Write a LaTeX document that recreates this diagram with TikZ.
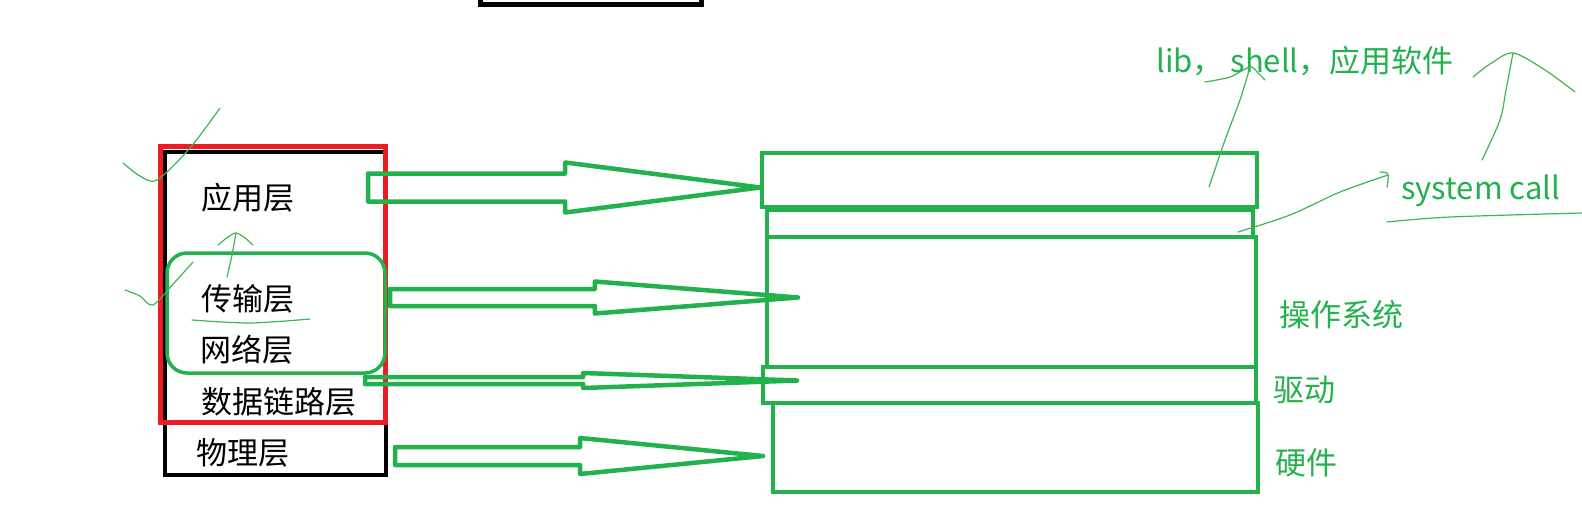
\documentclass[tikz,border=0pt]{standalone}
\usepackage{fontspec}
\setmainfont{Noto Sans CJK SC}
\usetikzlibrary{calc}
\usetikzlibrary{fit}
\definecolor{paintgreen}{HTML}{22B14C}
\definecolor{paintred}{HTML}{ED1C24}
\definecolor{pengreen}{HTML}{3DB554}
\tikzset{
  layerbox/.style={draw, inner sep=0pt},
  greenbox/.style={layerbox, paintgreen, line width=4.5pt},
  blockarrow/.style={paintgreen, line width=4.5pt, line join=round},
  pen/.style={pengreen, line width=1.2pt, line cap=round},
  layername/.style={font=\fontsize{31}{37}\selectfont, inner sep=0pt, anchor=west},
  osname/.style={layername, text=paintgreen},
}
\newcommand{\layerarrow}[5]{%
  \path ($(#1)!#3!(#2)$) coordinate (head);
  \draw[blockarrow] ($(#1)+(0,-#4)$) -- ($(head)+(0,-#4)$) -- ($(head)+(0,-#5)$) -- (#2)
    -- ($(head)+(0,#5)$) -- ($(head)+(0,#4)$) -- ($(#1)+(0,#4)$) -- cycle;}

\begin{document}
\begin{tikzpicture}[x=1pt, y=-1pt]
            \useasboundingbox (0,0) rectangle (1582,528);
            \node[layerbox, line width=5pt, fit={(480,-30) (701,4)}] (topbox) {};
            \node[layerbox, line width=4.5pt, fit={(165,152) (386,475)}] (stack) {};
            \node[layerbox, paintred, line width=5pt, fit={(160,146) (385,422)}] (software) {};
            \node[layerbox, paintgreen, line width=3.5pt, rounded corners=20pt, fit={(167,253) (385,373)}] (kernel) {};
            \node[layername] (app) at (201,198) {应用层};
            \node[layername] (transport) at (201,299) {传输层};
            \node[layername] (network) at (200,350) {网络层};
            \node[layername] (datalink) at (201,402) {数据链路层};
            \node[layername] (physical) at (196,453) {物理层};
            \node[greenbox, fit={(762,153) (1257,207)}] (userland) {};
            \node[greenbox, fit={(767,210) (1253,237)}] (syscall) {};
            \node[greenbox, fit={(767,237) (1256,367)}] (os) {};
            \node[greenbox, fit={(763,367) (1256,403)}] (driver) {};
            \node[greenbox, fit={(773,403) (1258,492)}] (hardware) {};
            \node[osname] (os-label) at (1279,315) {操作系统};
            \node[osname] (driver-label) at (1273,390) {驱动};
            \node[osname] (hw-label) at (1275,463) {硬件};
            \node[osname] (syscall-label) at (1401,191) {system call};
            \node[osname] (lib-label) at (1156,61) {lib，\ shell，应用软件};
            \coordinate (app-out) at (368,187.5);
            \coordinate (app-in) at (760,187.5);
            \coordinate (tr-out) at (390,297.5);
            \coordinate (tr-in) at (798,297.5);
            \coordinate (dl-out) at (365,380.5);
            \coordinate (dl-in) at (797,380.5);
            \coordinate (ph-out) at (395,456);
            \coordinate (ph-in) at (763,456);
            \layerarrow{app-out}{app-in}{0.503}{14}{25}
            \layerarrow{tr-out}{tr-in}{0.502}{8.5}{16}
            \layerarrow{dl-out}{dl-in}{0.505}{3.5}{7.5}
            \layerarrow{ph-out}{ph-in}{0.503}{9}{18}
            \draw[pen] plot[smooth] coordinates {(123,163) (140,176) (157,180) (190,148) (220,108)};
            \draw[pen] plot[smooth] coordinates {(125,290) (140,296) (153,305) (175,282) (193,262)};
            \draw[pen] plot[smooth] coordinates {(227,277) (232,255) (236,233)};
            \draw[pen] plot[smooth] coordinates {(218,245) (228,237) (236,233) (245,238) (253,245)};
            \draw[pen] plot[smooth] coordinates {(192,320) (250,323) (310,319)};
            \draw[pen] plot[smooth] coordinates {(1209,187) (1225,140) (1240,100) (1250,67)};
            \draw[pen] plot[smooth] coordinates {(1205,82) (1230,77) (1250,67) (1258,73) (1265,80)};
            \draw[pen] plot[smooth] coordinates {(1238,232) (1290,215) (1340,192) (1388,175)};
            \draw[pen] plot[smooth] coordinates {(1380,172) (1388,174) (1387,187)};
            \draw[pen] plot[smooth] coordinates {(1482,160) (1500,120) (1506,90) (1513,53)};
            \draw[pen] plot[smooth] coordinates {(1473,77) (1490,64) (1513,53) (1545,70) (1575,92)};
            \draw[pen] plot[smooth] coordinates {(1387,222) (1450,217) (1582,213)};
        \end{tikzpicture}
\end{document}
